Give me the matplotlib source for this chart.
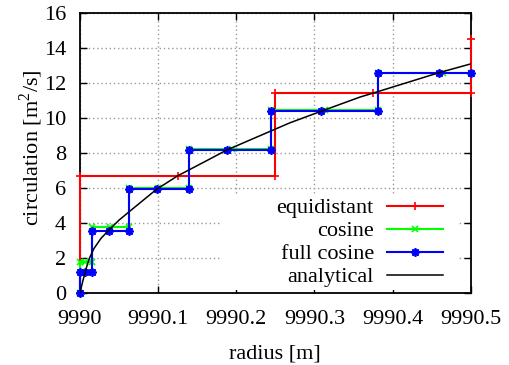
import matplotlib
matplotlib.use("Agg")
import matplotlib.pyplot as plt
from matplotlib.patches import Rectangle

# --- data ---
# equidistant panels (edge, centre, edge per panel)
equi_r = [9990.0, 9990.0, 9990.125, 9990.25, 9990.25, 9990.375, 9990.5, 9990.5]
equi_g = [0.0, 6.7, 6.7, 6.7, 11.43, 11.43, 11.43, 14.55]

# cosine panels
cos_r = [9990.0, 9990.0, 9990.006, 9990.016,
         9990.016, 9990.038, 9990.0627,
         9990.0627, 9990.100, 9990.139,
         9990.139, 9990.194, 9990.245,
         9990.245, 9990.314, 9990.3815,
         9990.3815, 9990.4646, 9990.5]
cos_g = [0.0, 1.77, 1.77, 1.77,
         3.75, 3.75, 3.75,
         5.98, 5.98, 5.98,
         8.23, 8.23, 8.23,
         10.45, 10.45, 10.45,
         12.57, 12.57, 12.57]

# full cosine panels
fcos_r = [9990.0, 9990.0, 9990.007, 9990.016,
          9990.016, 9990.037, 9990.0627,
          9990.0627, 9990.098, 9990.139,
          9990.139, 9990.188, 9990.245,
          9990.245, 9990.309, 9990.3815,
          9990.3815, 9990.4595, 9990.5]
fcos_g = [0.0, 1.2, 1.2, 1.2,
          3.57, 3.57, 3.57,
          5.93, 5.93, 5.93,
          8.18, 8.18, 8.18,
          10.4, 10.4, 10.4,
          12.6, 12.6, 12.6]

# analytical curve
ana_r = [9990.0, 9990.001, 9990.004, 9990.008, 9990.012, 9990.018, 9990.027,
         9990.037, 9990.05, 9990.063, 9990.072, 9990.098, 9990.125, 9990.166,
         9990.188, 9990.2685, 9990.309, 9990.358, 9990.375, 9990.4595, 9990.5]
ana_g = [0.0, 0.19, 0.74, 1.41, 1.98, 2.55, 3.13,
         3.6, 4.17, 4.65, 4.98, 5.93, 6.7, 7.66,
         8.18, 9.73, 10.4, 11.2, 11.43, 12.6, 13.1]

xticks = [9990.0, 9990.1, 9990.2, 9990.3, 9990.4, 9990.5]
xticklabels = ["9990", "9990.1", "9990.2", "9990.3", "9990.4", "9990.5"]
yticks = [0, 2, 4, 6, 8, 10, 12, 14, 16]

plt.rcParams["font.family"] = ["Liberation Serif", "DejaVu Serif"]
plt.rcParams["mathtext.fontset"] = "custom"
plt.rcParams["mathtext.rm"] = "Liberation Serif"
plt.rcParams["font.size"] = 16

fig = plt.figure(figsize=(5.09, 3.65), dpi=100)
fig.subplots_adjust(left=0.157, right=0.925, bottom=0.197, top=0.964)
ax = fig.add_subplot(111)

ax.plot(equi_r, equi_g, color="#ff0000", lw=1.5, marker="+", ms=6, mew=1.2,
        label="equidistant", clip_on=False, zorder=3)
ax.plot(cos_r, cos_g, color="#00ff00", lw=1.5, marker="x", ms=5, mew=1.2,
        label="cosine", clip_on=False, zorder=3)
ax.plot(fcos_r, fcos_g, color="#0000ff", lw=1.5, marker=(8, 2, 0), ms=6, mew=1.3,
        label="full cosine", clip_on=False, zorder=3)
ax.plot(ana_r, ana_g, color="black", lw=1.1, label="analytical", zorder=3)

ax.set_xlim(9990.0, 9990.5)
ax.set_ylim(0, 16)
ax.set_xticks(xticks)
ax.set_xticklabels(xticklabels)
ax.set_yticks(yticks)
ax.tick_params(direction="in", top=True, right=True, length=5, width=1)
ax.tick_params(axis="x", pad=12)
ax.tick_params(axis="y", pad=10)
ax.grid(True, color="#9a9a9a", ls=(0, (1, 2)), lw=1)
ax.set_axisbelow(True)
for s in ax.spines.values():
    s.set_linewidth(1.3)

ax.set_xlabel("radius [m]", labelpad=11)
ax.set_ylabel("circulation [m$^2$/s]")
ax.yaxis.set_label_coords(-0.09, 0.52)

# white key background like gnuplot (hides grid only)
ax.add_patch(Rectangle((0.358, 0.01), 0.61, 0.345, transform=ax.transAxes,
                       facecolor="white", edgecolor="none", zorder=1))
ax.legend(loc="lower right", bbox_to_anchor=(0.928, 0.02), frameon=False,
          markerfirst=False, borderpad=0, borderaxespad=0, handlelength=2.5,
          handletextpad=0.6, labelspacing=0.11, fontsize=16)

fig.savefig("out.png", dpi=100)
